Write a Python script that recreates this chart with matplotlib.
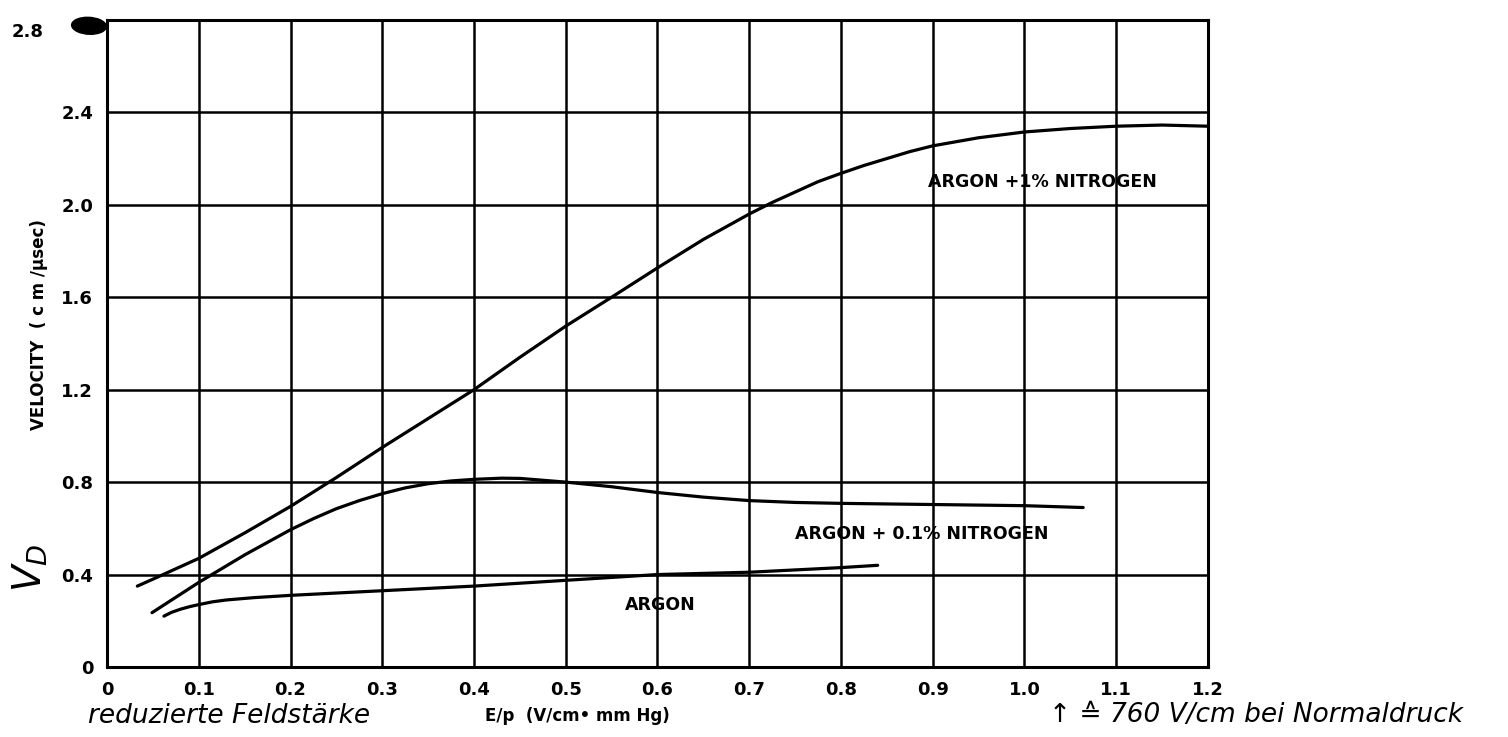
import numpy as np
import matplotlib.pyplot as plt
from matplotlib.patches import Ellipse

# drift velocity vs reduced field strength
ar_n1_x = [0.033, 0.05, 0.1, 0.15, 0.2, 0.25, 0.3, 0.35, 0.4, 0.45, 0.5, 0.55, 0.6,
           0.65, 0.7, 0.725, 0.75, 0.775, 0.8, 0.825, 0.85, 0.875, 0.9, 0.95, 1.0, 1.05,
           1.1, 1.15, 1.2]
ar_n1_y = [0.35, 0.38, 0.47, 0.58, 0.695, 0.82, 0.95, 1.075, 1.20, 1.34, 1.475, 1.60, 1.727,
           1.85, 1.96, 2.01, 2.055, 2.10, 2.136, 2.17, 2.20, 2.23, 2.255, 2.29, 2.315, 2.33,
           2.34, 2.345, 2.34]

ar_n01_x = [0.049, 0.1, 0.15, 0.2, 0.225, 0.25, 0.275, 0.3, 0.325, 0.35, 0.375, 0.4, 0.43,
            0.45, 0.5, 0.55, 0.6, 0.65, 0.7, 0.75, 0.8, 0.9, 1.0, 1.064]
ar_n01_y = [0.235, 0.366, 0.485, 0.594, 0.642, 0.685, 0.72, 0.75, 0.775, 0.793, 0.805, 0.812, 0.817,
            0.816, 0.80, 0.78, 0.755, 0.735, 0.72, 0.712, 0.708, 0.703, 0.698, 0.69]

ar_x = [0.062, 0.07, 0.08, 0.09, 0.1, 0.115, 0.13, 0.16, 0.2, 0.3, 0.4, 0.5, 0.6, 0.7, 0.8, 0.84]
ar_y = [0.22, 0.236, 0.25, 0.261, 0.27, 0.282, 0.29, 0.30, 0.31, 0.33, 0.35, 0.375, 0.40, 0.41,
        0.43, 0.44]

xticks = [0, 0.1, 0.2, 0.3, 0.4, 0.5, 0.6, 0.7, 0.8, 0.9, 1.0, 1.1, 1.2]
xlabels = ["0", "0.1", "0.2", "0.3", "0.4", "0.5", "0.6", "0.7", "0.8", "0.9", "1.0", "1.1", "1.2"]
yticks = [0, 0.4, 0.8, 1.2, 1.6, 2.0, 2.4, 2.8]
ylabels = ["0", "0.4", "0.8", "1.2", "1.6", "2.0", "2.4", ""]

fig = plt.figure(figsize=(15.08, 7.37), dpi=100)
ax = fig.add_axes([0.071, 0.095, 0.730, 0.878])

for x, y in [(ar_n1_x, ar_n1_y), (ar_n01_x, ar_n01_y), (ar_x, ar_y)]:
    ax.plot(x, y, color="black", lw=2.3, solid_capstyle="round", solid_joinstyle="round", zorder=3)

ax.set_xlim(0, 1.2)
ax.set_ylim(0, 2.8)
ax.set_xticks(xticks)
ax.set_xticklabels(xlabels)
ax.set_yticks(yticks)
ax.set_yticklabels(ylabels)
ax.tick_params(length=0, labelsize=13, pad=10)
for lab in ax.get_xticklabels() + ax.get_yticklabels():
    lab.set_fontweight("bold")
ax.grid(True, color="black", lw=1.8)
for s in ax.spines.values():
    s.set_linewidth(2.2)

ax.text(1.02, 2.10, "ARGON +1% NITROGEN", fontsize=12.5, fontweight="bold", ha="center", va="center")
ax.text(0.888, 0.575, "ARGON + 0.1% NITROGEN", fontsize=12.5, fontweight="bold", ha="center", va="center")
ax.text(0.603, 0.27, "ARGON", fontsize=12.5, fontweight="bold", ha="center", va="center")

# top tick label with the ink mark next to it
fig.text(0.018, 0.957, "2.8", fontsize=13, fontweight="bold", ha="center", va="center")
fig.patches.append(Ellipse((0.059, 0.965), 0.022, 0.024, angle=45, transform=fig.transFigure,
                           color="black", figure=fig))

fig.text(0.026, 0.56, "VELOCITY  ( c m /μsec)", rotation=90, fontsize=12, fontweight="bold",
         ha="center", va="center")
fig.text(0.020, 0.23, "$V_D$", rotation=90, fontsize=28, ha="center", va="center")

fig.text(0.152, 0.028, "reduzierte Feldstärke", fontsize=19, fontstyle="italic", ha="center", va="center")
fig.text(0.383, 0.028, "E/p  (V/cm• mm Hg)", fontsize=12, fontweight="bold", ha="center", va="center")
fig.text(0.833, 0.030, "↑ ≙ 760 V/cm bei Normaldruck", fontsize=19, fontstyle="italic",
         ha="center", va="center")

fig.savefig("out.png", dpi=100, facecolor="white")
